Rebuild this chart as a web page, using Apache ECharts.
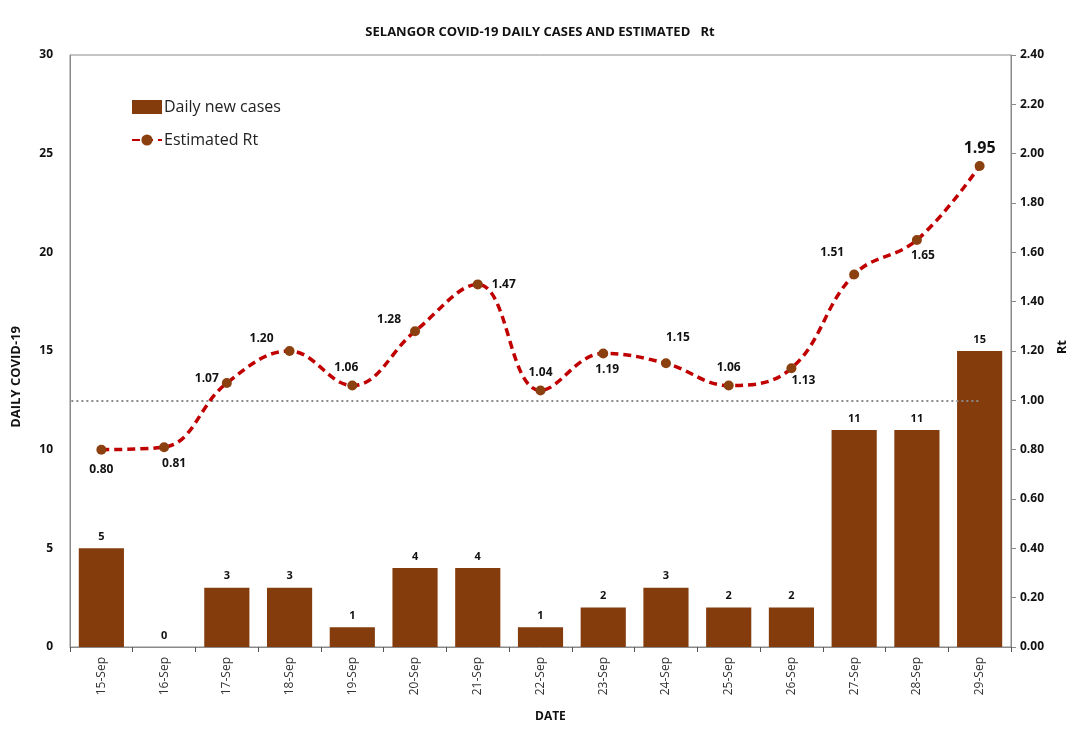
<!DOCTYPE html>
<html lang="en">
<head>
    <meta charset="UTF-8">
    <title>Selangor COVID-19</title>
    <script src="https://cdn.jsdelivr.net/npm/echarts@6/dist/echarts.js"></script>
    <style>
        body { margin: 0; background: #fff; }
    </style>
</head>
<body>
    <div id="chart" style="width: 1080px; height: 737px;"></div>
    <script type="text/javascript">
        const dates = ['15-Sep', '16-Sep', '17-Sep', '18-Sep', '19-Sep', '20-Sep', '21-Sep', '22-Sep',
            '23-Sep', '24-Sep', '25-Sep', '26-Sep', '27-Sep', '28-Sep', '29-Sep'];
        const dailyCases = [5, 0, 3, 3, 1, 4, 4, 1, 2, 3, 2, 2, 11, 11, 15];
        const estimatedRt = [0.80, 0.81, 1.07, 1.20, 1.06, 1.28, 1.47, 1.04, 1.19, 1.15, 1.06, 1.13, 1.51, 1.65, 1.95];
        const rtThreshold = 1.0;

        // where each Rt label sits relative to its point
        const rtLabelPlace = [
            ['bottom', [0, 4]], ['bottom', [10, 0]], ['left', [2, -4]], ['left', [-6, -12]],
            ['top', [-6, -2]], ['left', [-4, -12]], ['right', [4, 0]], ['top', [0, -2]],
            ['bottom', [4, 0]], ['top', [12, -10]], ['top', [0, -2]], ['bottom', [12, -4]],
            ['left', [0, -22]], ['bottom', [6, 0]], ['top', [0, 0]]
        ];

        const font = '"Open Sans", "Noto Sans", sans-serif';
        const chart = echarts.init(document.getElementById('chart'), null, { renderer: 'canvas' });

        const rtData = estimatedRt.map((v, i) => {
            const last = i === estimatedRt.length - 1;
            return {
                value: v,
                label: {
                    position: rtLabelPlace[i][0],
                    offset: rtLabelPlace[i][1],
                    fontSize: last ? 16 : 12
                }
            };
        });

        chart.setOption({
            animation: false,
            textStyle: { fontFamily: font },
            title: {
                text: 'SELANGOR COVID-19 DAILY CASES AND ESTIMATED   Rt',
                left: 'center',
                top: 21,
                textStyle: { fontSize: 13, fontWeight: 'bold', color: '#111', fontFamily: font }
            },
            legend: {
                orient: 'vertical',
                left: 126,
                top: 94,
                itemGap: 17,
                itemWidth: 30,
                itemHeight: 14,
                textStyle: { fontSize: 16, color: '#222', fontFamily: font, padding: [0, 0, 0, -3] },
                data: [
                    { name: 'Daily new cases', icon: 'rect' },
                    { name: 'Estimated Rt' }
                ]
            },
            grid: {
                left: 70, right: 69, top: 55, bottom: 90,
                show: true, borderColor: '#8a8a8a', borderWidth: 1
            },
            xAxis: {
                type: 'category',
                data: dates,
                axisLine: { lineStyle: { color: '#8a8a8a' } },
                axisTick: { show: true, length: 5, lineStyle: { color: '#555' } },
                axisLabel: { rotate: 90, color: '#333', fontSize: 12, margin: 10 },
                splitLine: { show: false }
            },
            yAxis: [
                {
                    type: 'value', min: 0, max: 30, interval: 5,
                    axisLine: { show: true, lineStyle: { color: '#8a8a8a' } },
                    axisTick: { show: false },
                    axisLabel: { color: '#111', fontWeight: 'bold', fontSize: 12, margin: 17 },
                    splitLine: { show: false }
                },
                {
                    type: 'value', min: 0, max: 2.4, interval: 0.2,
                    axisLine: { show: true, lineStyle: { color: '#8a8a8a' } },
                    axisTick: { show: true, length: 5, lineStyle: { color: '#8a8a8a' } },
                    axisLabel: {
                        color: '#111', fontWeight: 'bold', fontSize: 12, margin: 9,
                        formatter: v => v.toFixed(2)
                    },
                    splitLine: { show: false }
                }
            ],
            graphic: [
                {
                    type: 'text', left: 10, top: 326, rotation: Math.PI / 2,
                    style: { text: 'DAILY COVID-19', fontSize: 13, fontWeight: 'bold', fill: '#111', fontFamily: font }
                },
                {
                    type: 'text', left: 1056, top: 340, rotation: Math.PI / 2,
                    style: { text: 'Rt', fontSize: 13, fontWeight: 'bold', fill: '#111', fontFamily: font }
                },
                {
                    type: 'text', left: 535, top: 711,
                    style: { text: 'DATE', fontSize: 12, fontWeight: 'bold', fill: '#111', fontFamily: font }
                }
            ],
            series: [
                {
                    name: 'Daily new cases',
                    type: 'bar',
                    yAxisIndex: 0,
                    barWidth: '72%',
                    itemStyle: { color: '#843c0c' },
                    label: { show: true, position: 'top', color: '#111', fontWeight: 'bold', fontSize: 11, distance: 6 },
                    data: dailyCases
                },
                {
                    name: 'Estimated Rt',
                    type: 'line',
                    yAxisIndex: 1,
                    smooth: 0.4,
                    symbol: 'circle',
                    symbolSize: 10,
                    itemStyle: { color: '#8b4010' },
                    lineStyle: { color: '#c00000', width: 3.5, type: [8, 5] },
                    label: {
                        show: true, color: '#111', fontWeight: 'bold', fontSize: 12,
                        formatter: p => p.value.toFixed(2)
                    },
                    z: 5,
                    data: rtData
                }
            ]
        });

        // dotted Rt = 1 reference line, placed through the chart's own scales
        const yRef = chart.convertToPixel({ yAxisIndex: 1 }, rtThreshold);
        const xStart = chart.convertToPixel({ xAxisIndex: 0 }, dates[0]) - 30;
        const xEnd = chart.convertToPixel({ xAxisIndex: 0 }, dates[dates.length - 1]);
        chart.setOption({
            series: [{}, {
                markLine: {
                    silent: true,
                    symbol: 'none',
                    label: { show: false },
                    lineStyle: { color: '#8a8a8a', type: [2, 3], width: 2 },
                    data: [[{ x: xStart, y: yRef }, { x: xEnd, y: yRef }]]
                }
            }]
        });
    </script>
</body>
</html>
